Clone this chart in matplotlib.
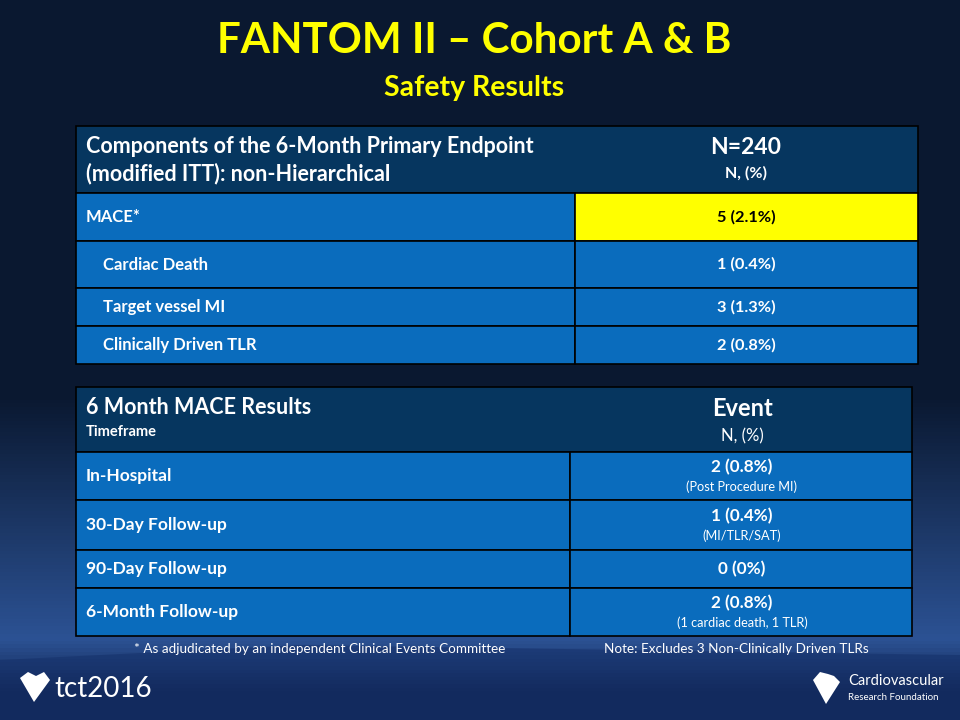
import numpy as np
import matplotlib.pyplot as plt
from matplotlib.patches import Rectangle, Polygon

plt.rcParams['font.family'] = ['Lato', 'DejaVu Sans']

title = "FANTOM II – Cohort A & B"
subtitle = "Safety Results"

# table 1
t1_head_left = "Components of the 6-Month Primary Endpoint\n(modified ITT): non-Hierarchical"
t1_head_right = "N=240"
t1_head_sub = "N, (%)"
t1_rows = ["MACE*", "Cardiac Death", "Target vessel MI", "Clinically Driven TLR"]
t1_vals = ["5 (2.1%)", "1 (0.4%)", "3 (1.3%)", "2 (0.8%)"]
t1_indent = [False, True, True, True]

# table 2
t2_head_left = "6 Month MACE Results"
t2_head_left_sub = "Timeframe"
t2_head_right = "Event"
t2_head_sub = "N, (%)"
t2_rows = ["In-Hospital", "30-Day Follow-up", "90-Day Follow-up", "6-Month Follow-up"]
t2_vals = ["2 (0.8%)", "1 (0.4%)", "0 (0%)", "2 (0.8%)"]
t2_notes = ["(Post Procedure MI)", "(MI/TLR/SAT)", "", "(1 cardiac death, 1 TLR)"]

foot_left = "* As adjudicated by an independent Clinical Events Committee"
foot_right = "Note: Excludes 3 Non-Clinically Driven TLRs"

HEAD = "#06365f"
BODY = "#0a6cbd"
YELLOW = "#ffff00"

fig = plt.figure(figsize=(9.6, 7.2), dpi=100)
ax = fig.add_axes([0, 0, 1, 1])
ax.set_xlim(0, 960)
ax.set_ylim(720, 0)
ax.axis("off")

# background gradient
yy = np.linspace(0, 1, 200)
top = np.array([0x0a, 0x18, 0x30]) / 255
mid = np.array([0x2c, 0x52, 0x94]) / 255
bot = np.array([0x10, 0x24, 0x50]) / 255
cols = []
for v in yy:
    if v < 0.55:
        c = top
    elif v < 0.89:
        f = (v - 0.55) / 0.34
        c = top + (mid - top) * f
    else:
        f = (v - 0.89) / 0.11
        c = mid + (bot - mid) * min(1, f * 1.5)
    cols.append(c)
grad = np.array(cols)[:, None, :]
ax.imshow(grad, extent=[0, 960, 720, 0], aspect="auto", zorder=0)
# darker lower-left wedge
ax.add_patch(Polygon([[0, 660], [300, 645], [960, 655], [960, 720], [0, 720]],
                     closed=True, facecolor="#15306a", alpha=0.55, lw=0, zorder=1))

ax.text(474, 41, title, color=YELLOW, fontsize=30.3, fontweight="bold",
        ha="center", va="center", zorder=5)
ax.text(474, 88, subtitle, color=YELLOW, fontsize=20.5, fontweight="bold",
        ha="center", va="center", zorder=5)


def cell(x0, y0, x1, y1, fc):
    ax.add_patch(Rectangle((x0, y0), x1 - x0, y1 - y0, facecolor=fc,
                           edgecolor="black", lw=1.2, zorder=3))


# table 1
x0, xs, x1 = 76, 575, 918
cell(x0, 126, x1, 193, HEAD)
ax.text(86, 160, t1_head_left, color="white", fontsize=15.5, fontweight="bold",
        ha="left", va="center", linespacing=1.35, zorder=5)
ax.text(746, 148, t1_head_right, color="white", fontsize=16.5, fontweight="bold",
        ha="center", va="center", zorder=5)
ax.text(746, 173, t1_head_sub, color="white", fontsize=11.5, fontweight="bold",
        ha="center", va="center", zorder=5)
t1_edges = [193, 241, 288, 326, 364]
for i, (lab, val) in enumerate(zip(t1_rows, t1_vals)):
    ya, yb = t1_edges[i], t1_edges[i + 1]
    cell(x0, ya, xs, yb, BODY)
    cell(xs, ya, x1, yb, YELLOW if i == 0 else BODY)
    yc = (ya + yb) / 2
    ax.text(103 if t1_indent[i] else 86, yc, lab, color="white", fontsize=12,
            fontweight="bold", ha="left", va="center", zorder=5)
    ax.text(746, yc, val, color="black" if i == 0 else "white", fontsize=11.8,
            fontweight="bold", ha="center", va="center", zorder=5)

# table 2
x0, xs, x1 = 76, 570, 912
cell(x0, 387, x1, 452, HEAD)
ax.text(86, 407, t2_head_left, color="white", fontsize=15.5, fontweight="bold",
        ha="left", va="center", zorder=5)
ax.text(86, 432, t2_head_left_sub, color="white", fontsize=10.5, fontweight="bold",
        ha="left", va="center", zorder=5)
ax.text(742, 409, t2_head_right, color="white", fontsize=17, fontweight="bold",
        ha="center", va="center", zorder=5)
ax.text(742, 436, t2_head_sub, color="white", fontsize=12,
        ha="center", va="center", zorder=5)
t2_edges = [452, 500, 550, 588, 636]
for i, (lab, val, note) in enumerate(zip(t2_rows, t2_vals, t2_notes)):
    ya, yb = t2_edges[i], t2_edges[i + 1]
    cell(x0, ya, xs, yb, BODY)
    cell(xs, ya, x1, yb, BODY)
    yc = (ya + yb) / 2
    ax.text(86, yc, lab, color="white", fontsize=12.5, fontweight="bold",
            ha="left", va="center", zorder=5)
    if note:
        ax.text(742, yc - 9, val, color="white", fontsize=12.3, fontweight="bold",
                ha="center", va="center", zorder=5)
        ax.text(742, yc + 11, note, color="white", fontsize=9.2,
                ha="center", va="center", zorder=5)
    else:
        ax.text(742, yc, val, color="white", fontsize=12.3, fontweight="bold",
                ha="center", va="center", zorder=5)

ax.text(320, 649, foot_left, color="white", fontsize=9.7, ha="center",
        va="center", zorder=5)
ax.text(736, 649, foot_right, color="white", fontsize=9.7, ha="center",
        va="center", zorder=5)

# logos (approximate)
ax.add_patch(Polygon([[20, 678], [28, 672], [36, 676], [44, 672], [50, 680],
                      [34, 702]], closed=True, facecolor="white", lw=0, zorder=5))
ax.text(54, 689, "tct2016", color="white", fontsize=20, ha="left",
        va="center", zorder=5)
ax.add_patch(Polygon([[813, 680], [820, 672], [828, 674], [834, 676], [840, 682],
                      [826, 704]], closed=True, facecolor="white", lw=0, zorder=5))
ax.text(848, 681, "Cardiovascular", color="white", fontsize=10.5, ha="left",
        va="center", zorder=5)
ax.text(848, 697, "Research Foundation", color="white", fontsize=7, ha="left",
        va="center", zorder=5)

fig.savefig("out.png", dpi=100)
